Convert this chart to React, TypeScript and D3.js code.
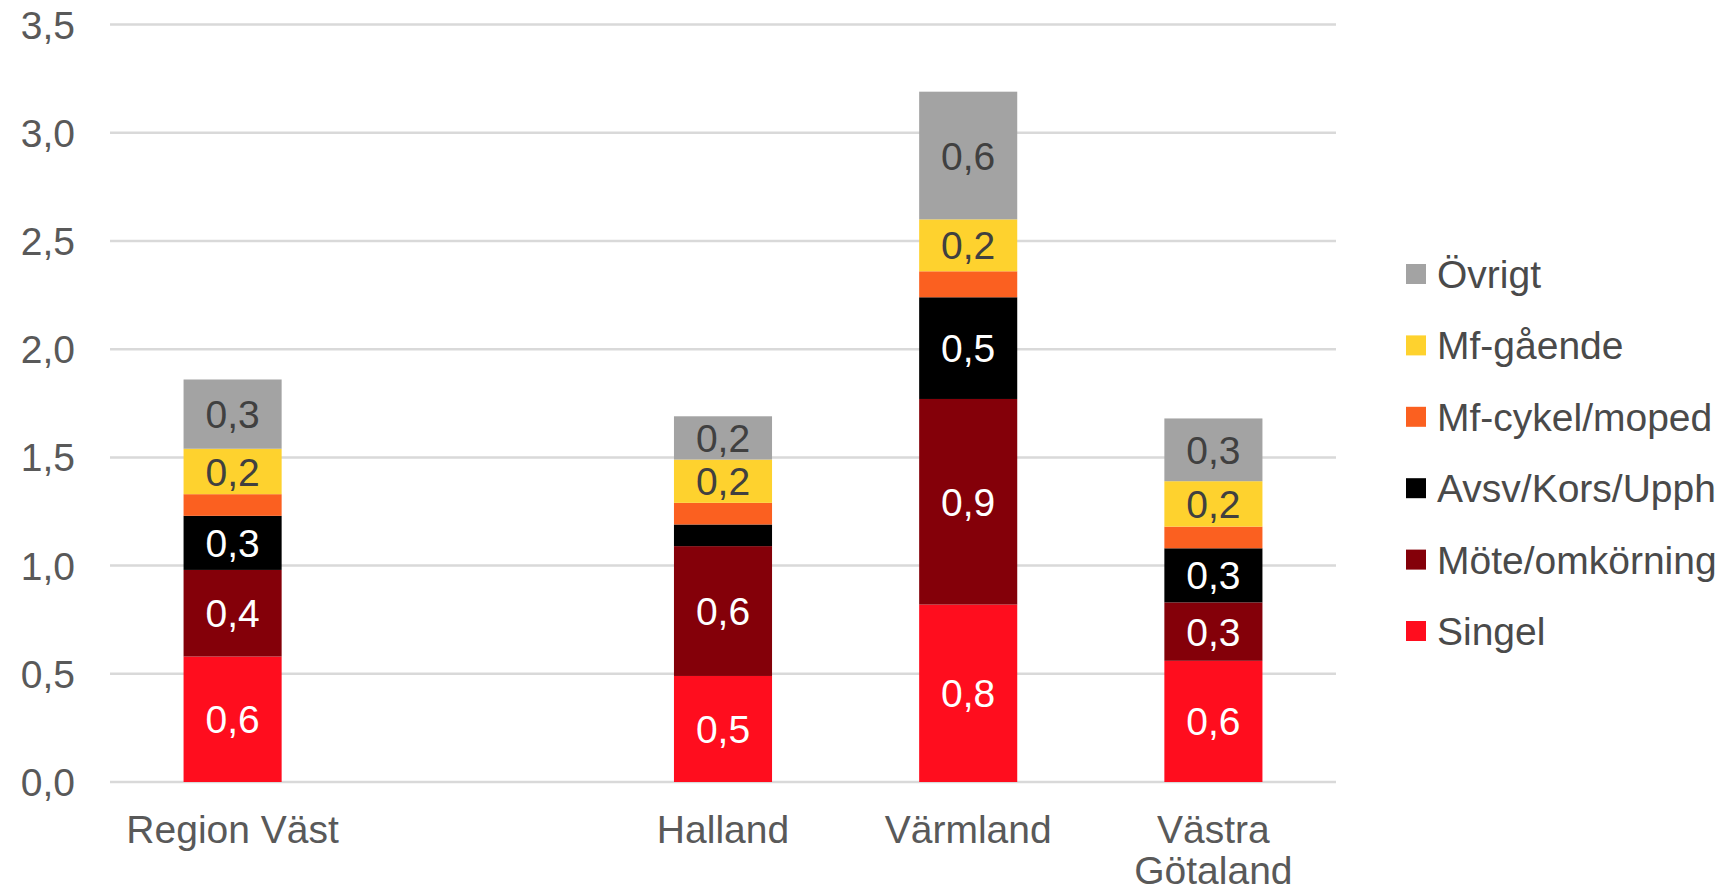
import { useEffect, useRef } from "react";
import * as d3 from "d3";

// categories (the blank one is the empty slot between Region Väst and Halland)
const categories = ["Region Väst", "", "Halland", "Värmland", "Västra Götaland"];

// series values, bottom to top
const singel = [0.58, null, 0.49, 0.82, 0.56];
const mote = [0.4, null, 0.6, 0.95, 0.27];
const avsv = [0.25, null, 0.1, 0.47, 0.25];
const mfCykel = [0.1, null, 0.1, 0.12, 0.1];
const mfGaende = [0.21, null, 0.2, 0.24, 0.21];
const ovrigt = [0.32, null, 0.2, 0.59, 0.29];

const seriesNames = ["Singel", "Möte/omkörning", "Avsv/Kors/Upph", "Mf-cykel/moped", "Mf-gående", "Övrigt"];
const seriesColors = ["#FF0D1E", "#840009", "#000000", "#FB6020", "#FED22E", "#A3A3A3"];
const labelColors = ["#ffffff", "#ffffff", "#ffffff", "#ffffff", "#404040", "#404040"];

const yTicks = [0, 0.5, 1, 1.5, 2, 2.5, 3, 3.5];

const W = 1729, H = 896;
const FONT = "'Liberation Sans', Arial, Helvetica, sans-serif";
const FS = 39;

function fmt(v: number) {
    return d3.format(".1f")(v).replace(".", ",");
}

function wrap(label: string, maxW: number) {
    const ctx = document.createElement("canvas").getContext("2d")!;
    ctx.font = `${FS}px ${FONT}`;
    const words = label.split(" ");
    const lines: string[] = [];
    let cur = "";
    words.forEach(w => {
        const t = cur ? cur + " " + w : w;
        if (cur && ctx.measureText(t).width > maxW) {
            lines.push(cur);
            cur = w;
        } else cur = t;
    });
    if (cur) lines.push(cur);
    return lines;
}

export default function App() {
    const ref = useRef<SVGSVGElement>(null);

    useEffect(() => {
        const svg = d3.select(ref.current);
        svg.selectAll("*").remove();

        const seriesVals = [singel, mote, avsv, mfCykel, mfGaende, ovrigt];
        const table = categories.map((c, i) => {
            const row: any = { cat: c };
            seriesNames.forEach((s, j) => { row[s] = seriesVals[j][i] ?? 0; });
            return row;
        });
        const stack = d3.stack().keys(seriesNames)(table);

        const x = d3.scaleBand()
            .domain(categories)
            .range([110, 1336])
            .paddingInner(0.6)
            .paddingOuter(0.3);
        const y = d3.scaleLinear().domain([0, 3.5]).range([782, 24.6]);

        // gridlines
        svg.append("g")
            .selectAll("line")
            .data(yTicks)
            .join("line")
            .attr("x1", 110)
            .attr("x2", 1336)
            .attr("y1", d => y(d))
            .attr("y2", d => y(d))
            .attr("stroke", "#D9D9D9")
            .attr("stroke-width", 2.5);

        // y tick labels
        svg.append("g")
            .selectAll("text")
            .data(yTicks)
            .join("text")
            .attr("x", 75)
            .attr("y", d => y(d))
            .attr("dy", "0.36em")
            .attr("text-anchor", "end")
            .attr("font-family", FONT)
            .attr("font-size", FS)
            .attr("fill", "#595959")
            .text(d => fmt(d));

        // bars
        stack.forEach((layer, j) => {
            const g = svg.append("g");
            layer.forEach((d: any, i) => {
                const v = seriesVals[j][i];
                if (v == null) return;
                const x0 = x(categories[i])!;
                g.append("rect")
                    .attr("x", x0)
                    .attr("width", x.bandwidth())
                    .attr("y", y(d[1]))
                    .attr("height", y(d[0]) - y(d[1]))
                    .attr("fill", seriesColors[j]);
                if (v >= 0.15) {
                    g.append("text")
                        .attr("x", x0 + x.bandwidth() / 2)
                        .attr("y", (y(d[0]) + y(d[1])) / 2)
                        .attr("dy", "0.36em")
                        .attr("text-anchor", "middle")
                        .attr("font-family", FONT)
                        .attr("font-size", FS)
                        .attr("fill", labelColors[j])
                        .text(fmt(v));
                }
            });
        });

        // category labels
        categories.forEach(c => {
            if (!c) return;
            const lines = wrap(c, x.step());
            const t = svg.append("text")
                .attr("text-anchor", "middle")
                .attr("font-family", FONT)
                .attr("font-size", FS)
                .attr("fill", "#595959");
            lines.forEach((l, k) => {
                t.append("tspan")
                    .attr("x", x(c)! + x.bandwidth() / 2)
                    .attr("y", 843 + k * 41)
                    .text(l);
            });
        });

        // legend, top entry is the last series
        const legend = svg.append("g").attr("transform", "translate(1406, 274)");
        const order = seriesNames.map((s, j) => j).reverse();
        order.forEach((j, k) => {
            const g = legend.append("g").attr("transform", `translate(0, ${k * 71.4})`);
            g.append("rect")
                .attr("x", 0)
                .attr("y", -10)
                .attr("width", 20)
                .attr("height", 20)
                .attr("fill", seriesColors[j]);
            g.append("text")
                .attr("x", 31)
                .attr("y", 0)
                .attr("dy", "0.36em")
                .attr("font-family", FONT)
                .attr("font-size", FS)
                .attr("fill", "#4A4A4A")
                .text(seriesNames[j]);
        });
    });

    return (
        <svg ref={ref} width={W} height={H}
            style={{ position: "absolute", left: 0, top: 0, background: "#fff" }} />
    );
}
